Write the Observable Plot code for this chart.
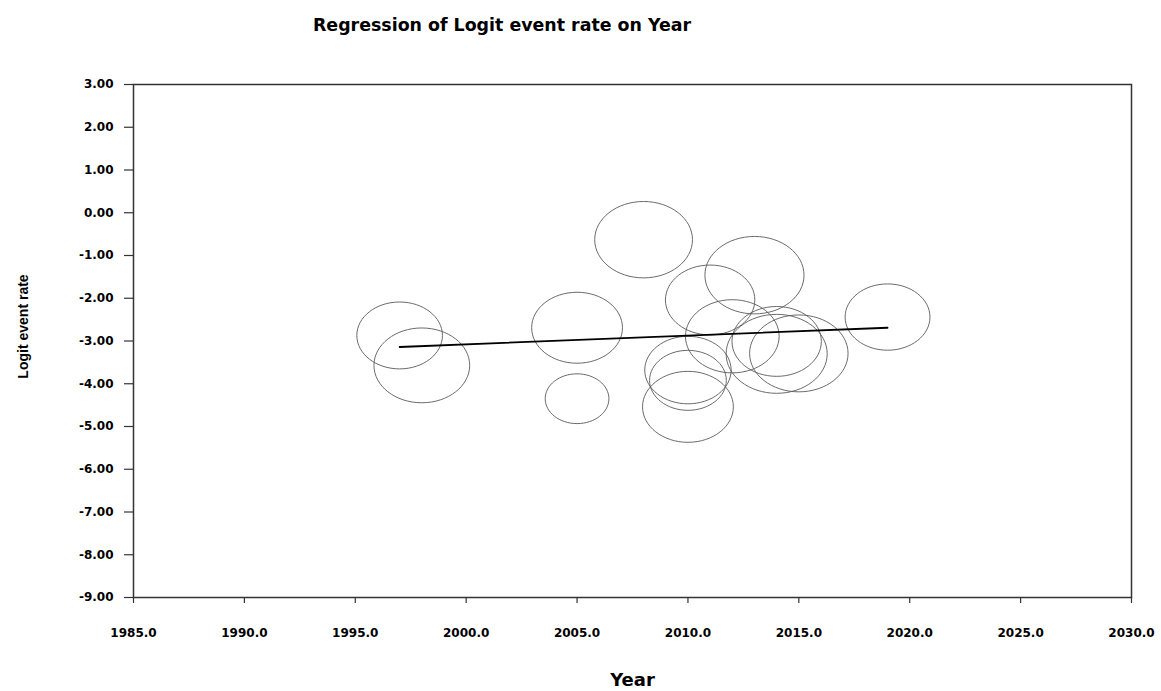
<!DOCTYPE html>
<html>
<head>
<meta charset="utf-8">
<script src="https://cdn.jsdelivr.net/npm/d3@7"></script>
<script src="https://cdn.jsdelivr.net/npm/@observablehq/plot@0.6"></script>
<style>
  html, body { margin: 0; padding: 0; background: #fff; }
  #wrap { width: 1161px; }
  #title { position: relative; height: 56px; }
  #title div { position: absolute; left: 0; width: 1004px; top: 17px; text-align: center;
    font-family: "DejaVu Sans", sans-serif; font-weight: bold; font-size: 17.4px; line-height: 1; color: #000; }
</style>
</head>
<body>
<div id="wrap">
  <div id="title"><div>Regression of Logit event rate on Year</div></div>
  <div id="chart"></div>
</div>
<script>
// Study data
const years   = [1997, 1998, 2005, 2005, 2008, 2010, 2010, 2010, 2011, 2012, 2013, 2014, 2014, 2015, 2019];
const logits  = [-2.87, -3.57, -2.69, -4.35, -0.63, -3.68, -3.92, -4.54, -2.04, -2.89, -1.46, -3.01, -3.30, -3.29, -2.44];
const weights = [5.6, 7.0, 6.3, 3.1, 7.3, 5.7, 4.5, 6.3, 6.1, 6.7, 7.5, 6.1, 7.8, 7.4, 5.5];

// Fitted regression line endpoints
const lineYears  = [1997, 2019];
const lineLogits = [-3.14, -2.69];

// Axis ticks
const xTicks = [1985, 1990, 1995, 2000, 2005, 2010, 2015, 2020, 2025, 2030];
const yTicks = [3, 2, 1, 0, -1, -2, -3, -4, -5, -6, -7, -8, -9];

const studies = years.map((y, i) => ({year: y, logit: logits[i], weight: weights[i]}));
const fit = lineYears.map((y, i) => ({year: y, logit: lineLogits[i]}));

// Ellipse symbol (the source picture is horizontally stretched)
const ellipse = {
  draw(ctx, size) {
    const ry = Math.sqrt(size / Math.PI), rx = ry * 1.28;
    const kx = rx * 0.5523, ky = ry * 0.5523;
    ctx.moveTo(rx, 0);
    ctx.bezierCurveTo(rx, ky, kx, ry, 0, ry);
    ctx.bezierCurveTo(-kx, ry, -rx, ky, -rx, 0);
    ctx.bezierCurveTo(-rx, -ky, -kx, -ry, 0, -ry);
    ctx.bezierCurveTo(kx, -ry, rx, -ky, rx, 0);
    ctx.closePath();
  }
};

const chart = Plot.plot({
  width: 1161,
  height: 635,
  marginTop: 28,
  marginBottom: 94,
  marginLeft: 133,
  marginRight: 30,
  style: {fontFamily: "DejaVu Sans, sans-serif", fontWeight: "bold", fontSize: "12px", color: "#000", background: "#fff"},
  x: {domain: [1985, 2030]},
  y: {domain: [-9, 3]},
  r: {type: "sqrt", domain: [0, 10], range: [0, 44.7]},
  marks: [
    Plot.dot(studies, {x: "year", y: "logit", r: "weight", symbol: ellipse, fill: "none", stroke: "#5a5a5a", strokeWidth: 0.9}),
    Plot.line(fit, {x: "year", y: "logit", stroke: "#000", strokeWidth: 1.8}),
    Plot.frame({stroke: "#333", strokeWidth: 1.5}),
    Plot.axisY({ticks: yTicks, tickFormat: d => d.toFixed(2), tickSize: 9, tickPadding: 11, label: null, stroke: "#333", strokeWidth: 1.2}),
    Plot.axisX({ticks: xTicks, tickFormat: d => d.toFixed(1), tickSize: 6, tickPadding: 25, label: null, stroke: "#333", strokeWidth: 1.2}),
    Plot.text(["Logit event rate"], {frameAnchor: "left", textAnchor: "middle", dx: -110, dy: -14.5, rotate: -90, fontSize: 14, fontWeight: "bold", fontFamily: "Liberation Sans, Arial, sans-serif", fill: "#000"}),
    Plot.text(["Year"], {frameAnchor: "bottom", dy: 88, fontSize: 18, fontWeight: "bold", fill: "#000"})
  ]
});
document.getElementById("chart").appendChild(chart);
</script>
</body>
</html>
